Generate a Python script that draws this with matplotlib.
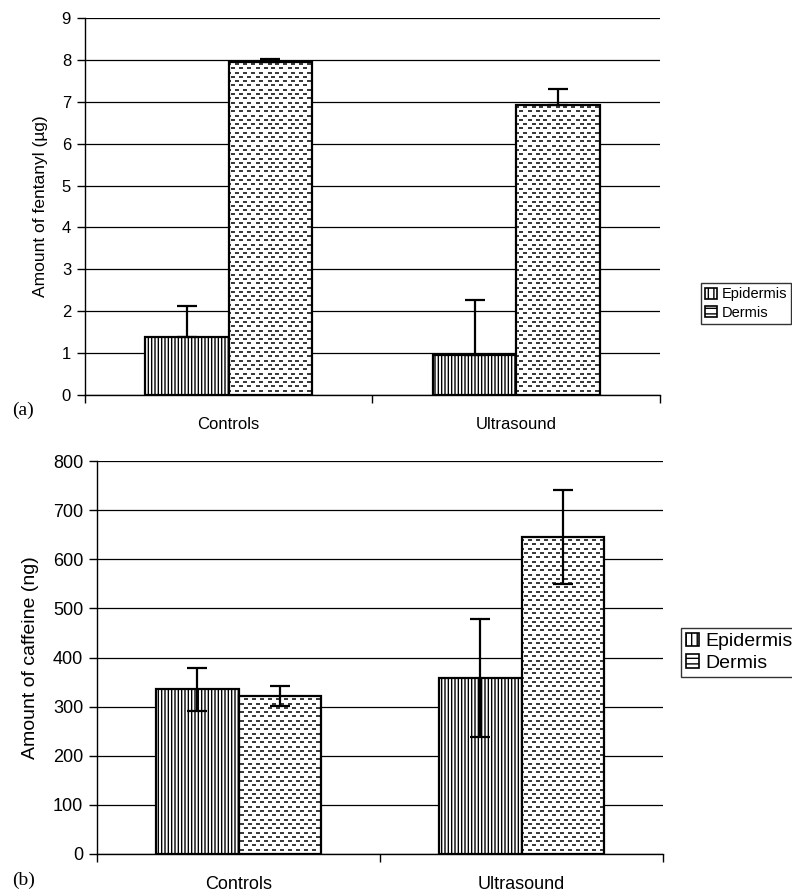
import numpy as np
import matplotlib.pyplot as plt
from matplotlib.patches import Patch

plt.rcParams['font.family'] = ['Liberation Sans', 'DejaVu Sans']
plt.rcParams['hatch.linewidth'] = 1.0

groups = ["Controls", "Ultrasound"]
layers = ["Epidermis", "Dermis"]

# (a) fentanyl, µg
fent_epi = [1.38, 0.96]
fent_epi_err = [0.75, 1.31]
fent_der = [7.95, 6.93]
fent_der_err = [0.08, 0.38]

# (b) caffeine, ng
caf_epi = [335, 359]
caf_epi_err = [44, 120]
caf_der = [322, 645]
caf_der_err = [21, 95]

W, H = 792, 893
fig = plt.figure(figsize=(W / 100, H / 100), dpi=100)


def add_dashes(ax, bar, ax_w, ax_h):
    # staggered short dashes inside the dermis bars
    xs = np.arange(-0.02, 1.02, 8.0 / ax_w)
    ys = np.arange(0, 1.0, 4.3 / ax_h)
    px, py = [], []
    for i, y in enumerate(ys):
        shift = (4.0 / ax_w) if i % 2 else 0.0
        px.extend(xs + shift)
        py.extend([y] * len(xs))
    coll = ax.scatter(px, py, marker='_', s=9, linewidths=1.1, color='black',
                      transform=ax.transAxes, zorder=4)
    coll.set_clip_path(bar)


def panel(rect, epi, epi_err, der, der_err, ymax, ystep, ylabel, fs, lfs, lower_err):
    ax = fig.add_axes(rect)
    ax_w, ax_h = rect[2] * W, rect[3] * H
    x = np.arange(len(groups))
    bw = 0.29
    ax.set_axisbelow(True)
    ax.yaxis.grid(True, color='black', linewidth=0.9)
    b1 = ax.bar(x - bw / 2, epi, bw, facecolor='white', edgecolor='black',
                linewidth=1.6, hatch='|||||', zorder=3)
    b2 = ax.bar(x + bw / 2, der, bw, facecolor='white', edgecolor='black',
                linewidth=1.6, zorder=3)
    for bar in b2:
        add_dashes(ax, bar, ax_w, ax_h)
    if lower_err:
        e1, e2 = epi_err, der_err
    else:
        e1 = [np.zeros(len(epi)), epi_err]
        e2 = [np.zeros(len(der)), der_err]
    ax.errorbar(x - bw / 2, epi, yerr=e1, fmt='none', ecolor='black',
                elinewidth=1.6, capsize=7, capthick=1.6, zorder=5)
    ax.errorbar(x + bw / 2, der, yerr=e2, fmt='none', ecolor='black',
                elinewidth=1.6, capsize=7, capthick=1.6, zorder=5)

    ax.set_xlim(-0.5, len(groups) - 0.5)
    ax.set_ylim(0, ymax)
    ax.set_yticks(np.arange(0, ymax + ystep / 2, ystep))
    ax.set_xticks(x)
    ax.set_xticklabels(groups, fontsize=fs)
    ax.set_xticks(np.arange(-0.5, len(groups)), minor=True)
    ax.tick_params(axis='x', which='major', length=0, pad=16)
    ax.tick_params(axis='x', which='minor', length=6, width=1)
    ax.tick_params(axis='y', length=6, width=1, labelsize=fs, pad=4)
    for s in ['top', 'right']:
        ax.spines[s].set_visible(False)
    for s in ['left', 'bottom']:
        ax.spines[s].set_linewidth(1)
    ax.set_ylabel(ylabel, fontsize=lfs, labelpad=10)
    return ax


ax1 = panel([85 / W, 1 - 395 / H, 575 / W, 377 / H], fent_epi, fent_epi_err,
            fent_der, fent_der_err, 9, 1, "Amount of fentanyl (µg)", 12, 12.5, False)
ax2 = panel([97 / W, 1 - 854 / H, 566 / W, 393 / H], caf_epi, caf_epi_err,
            caf_der, caf_der_err, 800, 100, "Amount of caffeine (ng)", 13, 14, True)

handles = [Patch(facecolor='white', edgecolor='black', hatch='|||', linewidth=1.2),
           Patch(facecolor='white', edgecolor='black', hatch='---', linewidth=1.2)]

fig.legend(handles, layers, loc='upper left', bbox_to_anchor=(701 / W, 1 - 283 / H),
           fontsize=10.5, frameon=True, fancybox=False, edgecolor='black',
           handlelength=0.8, handleheight=0.8, handletextpad=0.3,
           borderpad=0.3, labelspacing=0.3, borderaxespad=0)
fig.legend(handles, layers, loc='upper left', bbox_to_anchor=(681 / W, 1 - 628 / H),
           fontsize=14, frameon=True, fancybox=False, edgecolor='black',
           handlelength=0.7, handleheight=0.7, handletextpad=0.3,
           borderpad=0.25, labelspacing=0.2, borderaxespad=0)

fig.text(12 / W, 1 - 410 / H, "(a)", family='Liberation Serif', fontsize=14, va='center')
fig.text(12 / W, 1 - 880 / H, "(b)", family='Liberation Serif', fontsize=14, va='center')

fig.savefig("out.png", dpi=100)
